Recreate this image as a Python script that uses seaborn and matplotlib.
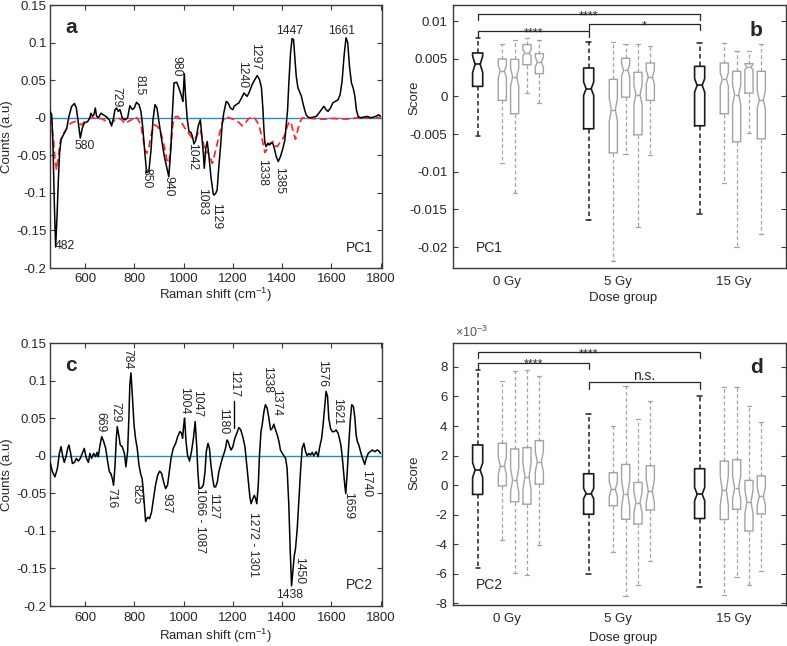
import numpy as np
import matplotlib.pyplot as plt
import seaborn as sns
from matplotlib.ticker import FuncFormatter

sns.set_style('ticks')
plt.rcParams['font.family'] = ['Liberation Sans', 'DejaVu Sans']
plt.rcParams['mathtext.fontset'] = 'custom'
plt.rcParams['mathtext.rm'] = 'Liberation Sans'
plt.rcParams['mathtext.it'] = 'Liberation Sans:italic'
plt.rcParams['axes.unicode_minus'] = False

# ---- panel a: PC1 loading (black) and dashed red curve
a_shift = [458, 465, 470, 476, 481, 486.5, 492, 497, 503, 512, 526, 535, 546, 557, 565, 573, 581, 589, 597,
           611, 620, 624, 630, 636, 642, 647, 654, 665, 674, 688, 699, 708, 716, 722, 728, 735, 742, 751, 762,
           773, 782, 792, 800, 809, 819, 827, 834, 843, 850, 859, 868, 876, 884, 892, 901, 911, 922, 931, 940,
           949, 954, 961, 972, 981, 992, 997, 1003, 1008, 1015, 1022, 1030, 1036, 1042, 1050, 1059, 1068,
           1073, 1080, 1084, 1090, 1096, 1103, 1111, 1120, 1123, 1130, 1136, 1143, 1150, 1157, 1163, 1173,
           1181, 1190, 1200, 1205, 1213, 1224, 1235, 1245, 1251, 1258, 1268, 1278, 1289, 1299, 1308, 1316,
           1322, 1326, 1330, 1335, 1342, 1349, 1355, 1362, 1368, 1376, 1384, 1393, 1403, 1411, 1416, 1422,
           1427, 1434, 1440, 1446, 1451, 1457, 1464, 1470, 1478, 1484, 1491, 1497, 1505, 1515, 1528, 1538,
           1549, 1559, 1569, 1578, 1586, 1596, 1605, 1616, 1627, 1635, 1643, 1651, 1659, 1666, 1673, 1681,
           1688, 1695, 1701, 1708, 1718, 1731, 1745, 1758, 1772, 1785, 1792, 1799]
a_pc1 = [0.0085, 0.004, -0.034, -0.1185, -0.172, -0.132, -0.083, -0.047, -0.029, -0.023, -0.014, 0.002, 0.015,
         0.019, 0.013, -0.007, -0.027, -0.014, -0.007,
         -0.005, 0.0, 0.006, 0.002, 0.004, 0.013, 0.002, 0.0, 0.006, 0.004, 0.001, -0.003, -0.011, 0.0, 0.011,
         0.013, 0.0085, 0.011, 0.0, -0.003,
         0.0, 0.016, 0.011, 0.013, 0.0205, 0.0174, 0.0085, -0.0116, -0.0472, -0.073, -0.0717, -0.0428, -0.0027,
         0.0174, 0.013, -0.0071, -0.0294, -0.0517, -0.065, -0.0784,
         -0.0383, 0.0018, 0.0463, 0.0472, 0.0397, 0.0285, 0.0218, 0.0588, 0.0285, -0.0027, -0.0183, -0.0196,
         -0.025, -0.0348, -0.0294, -0.0116, -0.0027,
         -0.0205, -0.0472, -0.0673, -0.0406, -0.0316, -0.0517, -0.0784, -0.1007, -0.1029, -0.1007, -0.0963,
         -0.0651, -0.0383, -0.0071, 0.0062, 0.0218,
         0.0196, 0.0129, 0.0107, 0.0152, 0.0174, 0.0196, 0.0263, 0.033, 0.0307, 0.0285, 0.0352, 0.0441, 0.0508,
         0.0561, 0.0508, 0.0397,
         0.0107, -0.016, -0.0339, -0.0383, -0.0339, -0.0361, -0.0339, -0.0339, -0.0406, -0.0517, -0.0584,
         -0.0517, -0.0406, -0.0294, -0.0116, 0.0107,
         0.0463, 0.0865, 0.1052, 0.1043, 0.082, 0.0553, 0.0397, 0.0352, 0.0285, 0.0196, 0.0107, 0.004, 0.0009,
         0.0, 0.0009, 0.0018,
         0.0062, 0.0107, 0.0152, 0.0107, 0.0085, 0.0129, 0.0196, 0.0218, 0.0241, 0.0307, 0.0486, 0.082, 0.1065,
         0.0998, 0.0686, 0.0463,
         0.0397, 0.0285, 0.0107, 0.0018, 0.0, 0.0009, 0.0018, 0.0, 0.0009, 0.0027, 0.004, 0.0018]

a_red_shift = [462, 472, 478, 485, 492, 499, 508, 519, 530, 543, 560, 573, 587, 600, 620, 641, 668, 688, 708,
               722, 735, 749, 762, 776, 789, 805, 816, 827, 837, 843, 851, 860, 870, 881, 895, 908, 922, 932,
               941, 949, 957, 965, 976, 985, 995, 1005, 1016, 1030, 1041, 1053, 1062, 1070, 1080, 1089, 1097,
               1107, 1116, 1120, 1127, 1137, 1146, 1157, 1165, 1173, 1187, 1200, 1211, 1224, 1238, 1249, 1262,
               1276, 1285, 1295, 1305, 1314, 1322, 1330, 1337, 1343, 1353, 1362, 1370, 1380, 1389, 1400, 1411,
               1420, 1430, 1438, 1446, 1454, 1462, 1470, 1481, 1501, 1522, 1549, 1576, 1603, 1630, 1657, 1684,
               1711, 1751, 1799]
a_red = [-0.0004, -0.0294, -0.0561, -0.0695, -0.0517, -0.0339, -0.0227, -0.0183, -0.0116, -0.0071, -0.0049,
         -0.0071, -0.0094, -0.0049, -0.0004, -0.0004, -0.0013, -0.0049, -0.0071,
         -0.0027, -0.0004, -0.0027, -0.008, -0.0049, -0.0027, 0.0018, -0.0027, -0.0094, -0.0294, -0.0428,
         -0.0472, -0.0383, -0.0205, -0.0094, -0.0116, -0.0205, -0.0383, -0.0561,
         -0.0606, -0.0339, -0.0071, 0.0009, 0.0018, -0.0018, -0.008, -0.0138, -0.0183, -0.025, -0.0294, -0.025,
         -0.016, -0.0183, -0.0339, -0.0472, -0.045,
         -0.0517, -0.0606, -0.0584, -0.0472, -0.0339, -0.0205, -0.0071, -0.0004, 0.0018, -0.0004, -0.0018,
         -0.0027, -0.0062, -0.0107, -0.008, -0.0018,
         0.0009, 0.0009, -0.0036, -0.0094, -0.0205, -0.0339, -0.0463, -0.0428, -0.0361, -0.0339, -0.0316,
         -0.0374, -0.0383, -0.0339, -0.0294, -0.0227,
         -0.0116, -0.0049, -0.0094, -0.0205, -0.0285, -0.0183, -0.0071, -0.0004, 0.0, -0.0009, -0.0018, -0.0018,
         -0.0009, -0.0013, -0.0018, -0.0009,
         0.0, 0.0, 0.0]

# ---- panel c: PC2 loading
c_shift = [458, 468, 478, 488, 496, 503, 510, 516, 523, 530, 535, 542, 549, 557, 565, 573, 581, 589, 597,
           605, 614, 620, 627, 635, 643, 649, 654, 661, 668, 676, 684, 692, 699, 705, 711, 716, 722, 727,
           731, 738, 743, 751, 760, 766, 773, 778, 782, 786.5, 792, 799, 805, 812, 819, 827, 832, 838, 846,
           854, 862, 870, 878, 886, 895, 903, 911, 919, 927, 935, 942, 949, 958, 968, 976, 985, 992, 996,
           1000, 1004, 1010, 1016, 1024, 1032, 1040, 1047, 1053, 1058, 1063, 1072, 1080, 1087, 1092, 1099,
           1105, 1111, 1118, 1124, 1130, 1137, 1143, 1150, 1157, 1164, 1170, 1176, 1181, 1187, 1193, 1200,
           1208, 1216, 1224, 1232, 1240, 1249, 1255, 1262, 1269, 1274, 1281, 1287, 1292, 1297, 1303, 1308,
           1314, 1319, 1326, 1332, 1339, 1346, 1353, 1360, 1366, 1373, 1380, 1387, 1393, 1403, 1414, 1420,
           1427, 1432, 1438, 1443, 1449, 1454, 1461, 1468, 1476, 1481, 1488, 1495, 1501, 1508, 1515, 1522,
           1528, 1538, 1546, 1551, 1560, 1566, 1573, 1578, 1584, 1589, 1596, 1603, 1611, 1619, 1627, 1632,
           1638, 1643, 1649, 1654, 1658, 1664, 1670, 1676, 1682, 1689, 1695, 1700, 1705, 1711, 1718, 1724,
           1731, 1735, 1741, 1749, 1757, 1765, 1776, 1785, 1792, 1799]
c_pc2 = [-0.008, -0.0214, -0.0281, -0.017, 0.0031, 0.0121, -0.0013, -0.0089, -0.0013, 0.0098, 0.0143, 0.0031,
         -0.0103, -0.0089, -0.0036, -0.0071, -0.0036, 0.0031, 0.0098,
         -0.0027, -0.0089, 0.0031, -0.0036, 0.0031, -0.0013, 0.0045, -0.0013, 0.0143, 0.0254, 0.0188, 0.0098,
         -0.008, -0.0214, -0.0237, -0.0304, -0.0393, -0.0125, 0.0232,
         0.0388, 0.0254, 0.0143, 0.0121, 0.0031, -0.0147, 0.0054, 0.05, 0.0946, 0.1103, 0.0813, 0.0411, 0.0232,
         0.0098, -0.0125, -0.0259, -0.0304, -0.0527, -0.0875,
         -0.0817, -0.0839, -0.075, -0.0571, -0.0393, -0.0259, -0.0205, -0.0237, -0.0348, -0.0438, -0.0393,
         -0.0214, -0.0036, 0.0098, 0.0165, 0.0254, 0.0321, 0.0299, 0.0232,
         0.0388, 0.05, 0.0188, 0.0009, -0.0071, 0.0054, 0.0232, 0.0455, 0.0143, -0.0214, -0.0438, -0.0429,
         -0.0393, -0.0214, 0.0054, 0.0165,
         0.0098, -0.0125, -0.0304, -0.0415, -0.0415, -0.0348, -0.0214, -0.0125, -0.0036, 0.0031, 0.0098, 0.021,
         0.0188, 0.0121, 0.0076, 0.0121,
         0.0232, 0.0299, 0.0375, 0.0344, 0.0254, 0.0121, -0.008, -0.0304, -0.0549, -0.0638, -0.0571, -0.0527,
         -0.0571, -0.0638, -0.0393, 0.0009,
         0.0321, 0.0411, 0.0589, 0.0679, 0.0634, 0.05, 0.0344, 0.0366, 0.042, 0.0344, 0.0277, 0.0188, 0.0076,
         0.0018, -0.0036, -0.017,
         -0.0661, -0.1196, -0.1732, -0.1554, -0.133, -0.1241, -0.0973, -0.0571, -0.0125, 0.0098, 0.0165, 0.0054,
         0.0, 0.0031, 0.0009, 0.0045,
         0.0, 0.0054, -0.0013, 0.0098, 0.0232, 0.0411, 0.0679, 0.0857, 0.079, 0.05, 0.0366, 0.0321, 0.0321,
         0.0344, 0.0299, 0.0232,
         0.0143, 0.0009, -0.0214, -0.0393, -0.0504, -0.0214, 0.0143, 0.0455, 0.0679, 0.0656, 0.05, 0.0277,
         0.0188, 0.0143, 0.0054, -0.0013,
         -0.008, -0.0116, -0.0036, 0.0031, 0.0054, 0.0076, 0.0054, 0.0076, 0.0063, 0.0031]

# peak labels (text, wavenumber, counts)
a_peaks_h = ['482', '580', '1447', '1661']
a_peaks_h_pos = [(478, -0.171, 'left'), (600, -0.038, 'center'), (1432, 0.115, 'center'), (1641, 0.115, 'center')]
a_peaks_v = ['729', '815', '980', '850', '940', '1042', '1083', '1129', '1240', '1297', '1338', '1385']
a_peaks_v_pos = [(726, 0.028), (820, 0.043), (969, 0.069), (850, -0.080), (938, -0.091), (1033, -0.051),
                 (1077, -0.111), (1134, -0.131), (1236, 0.058), (1290, 0.082), (1317, -0.073), (1388, -0.084)]
c_peaks_h = ['1438']
c_peaks_h_pos = [(1429, -0.185, 'center')]
c_peaks_v = ['669', '729', '784', '716', '825', '937', '1004', '1047', '1066 - 1087', '1127', '1180', '1217',
             '1272 - 1301', '1338', '1374', '1450', '1576', '1621', '1659', '1740']
c_peaks_v_pos = [(661, 0.044), (722, 0.058), (773, 0.129), (708, -0.056), (807, -0.051), (931, -0.0625),
                 (1002, 0.0727), (1053, 0.0696), (1067, -0.086), (1120, -0.067), (1161, 0.046), (1206, 0.0965),
                 (1283, -0.118), (1337, 0.102), (1375, 0.071), (1469, -0.153), (1564, 0.11), (1621, 0.059),
                 (1668, -0.066), (1740, -0.037)]

# ---- panels b / d: box plot summaries (black = pooled group, gray = individual)
dose_groups = ['0 Gy', '5 Gy', '15 Gy']
box_pos = [1, 3, 4, 5, 6, 10, 12, 13, 14, 15, 19, 21, 22, 23, 24]
pooled = [0, 5, 10]

b_whishi = [0.00781, 0.00692, 0.00745, 0.0078, 0.00745, 0.00728, 0.00728, 0.00701, 0.00701, 0.0067,
            0.00714, 0.00714, 0.00603, 0.00603, 0.00701]
b_q3 = [0.00577, 0.00497, 0.00492, 0.00688, 0.00568, 0.00377, 0.00226, 0.00506, 0.0032, 0.00444,
        0.00399, 0.00444, 0.00333, 0.00435, 0.00333]
b_med = [0.00426, 0.00333, 0.00257, 0.00577, 0.00457, 0.00102, -0.00177, 0.00346, 0.00022, 0.00257,
         0.00146, 0.00226, 0.00022, 0.0039, -0.00044]
b_q1 = [0.00133, -0.00053, -0.00231, 0.00421, 0.00302, -0.0043, -0.0075, -0.0001, -0.0051, -0.00053,
        -0.0039, -0.0023, -0.00603, 0.00044, -0.00563]
b_whislo = [-0.0053, -0.00883, -0.01282, 0.00044, -0.00084, -0.01642, -0.02192, -0.00763, -0.0173, -0.00772,
            -0.01562, -0.01153, -0.01997, -0.00484, -0.01828]
b_notch = [0.0011, 0.0008, 0.0012, 0.0004, 0.0007, 0.0009, 0.0015, 0.0008, 0.0013, 0.0009,
           0.0009, 0.0009, 0.0013, 0.0004, 0.0012]

# panel d values in units of 1e-3
d_whishi = [7.77, 7.02, 7.70, 7.81, 7.41, 4.80, 4.03, 6.68, 4.46, 5.66, 6.05, 6.61, 6.61, 5.37, 4.30]
d_q3 = [2.72, 2.83, 2.45, 2.54, 3.01, 0.77, 0.84, 1.40, 0.18, 1.31, 1.11, 1.63, 1.72, 0.32, 0.63]
d_med = [1.02, 1.31, 0.34, 0.57, 1.59, -0.57, -0.27, -0.57, -1.18, -0.41, -0.61, -0.36, -0.18, -1.13, -0.75]
d_q1 = [-0.63, -0.05, -1.13, -1.29, 0.07, -1.97, -1.40, -2.31, -2.63, -1.68, -2.26, -2.33, -1.63, -3.10, -1.95]
d_whislo = [-5.62, -3.71, -5.96, -6.07, -4.03, -6.0, -4.55, -7.47, -6.75, -5.16, -6.91, -7.43, -6.23, -6.73, -5.82]
d_notch = [0.5, 0.6, 0.8, 0.9, 0.7, 0.35, 0.5, 0.9, 0.7, 0.8, 0.45, 1.0, 0.8, 0.8, 0.6]

# significance brackets: (from group, to group, height, end height, label)
b_sig = [(0, 2, 0.01091, 0.0101, '****'), (0, 1, 0.00865, 0.0079, '****'), (1, 2, 0.00958, 0.00887, '*')]
d_sig = [(0, 2, 8.99, 8.6, '****'), (0, 1, 8.27, 7.88, '****'), (1, 2, 6.95, 6.52, 'n.s.')]

FRAME = '#3a3a3a'
TXT = '#262626'
GRAY = '#a3a3a3'
fmt = FuncFormatter(lambda v, p: f'{v:g}')

fig = plt.figure(figsize=(7.87, 6.46), dpi=100)
ax_a = fig.add_axes([0.0635, 0.5851, 0.4219, 0.4071])
ax_b = fig.add_axes([0.5756, 0.5851, 0.4231, 0.4071])
ax_c = fig.add_axes([0.0635, 0.0619, 0.4219, 0.4071])
ax_d = fig.add_axes([0.5756, 0.0635, 0.4231, 0.4056])


def style(ax):
    for s in ax.spines.values():
        s.set_color(FRAME)
        s.set_linewidth(1.0)
    ax.tick_params(direction='in', length=3.5, width=0.8, color=FRAME, labelcolor=TXT,
                   labelsize=9.5, top=True, right=True)


def spectrum(ax, x, y, hl, hl_pos, vl, vl_pos, tag, pc):
    ax.axhline(0, color='#2a8bd2', lw=1.0, zorder=1)
    sns.lineplot(x=x, y=y, ax=ax, color='black', lw=1.1, estimator=None, errorbar=None, zorder=3)
    for t, (px, py, ha) in zip(hl, hl_pos):
        ax.text(px, py, t, ha=ha, va='center', fontsize=8.7)
    for t, (px, py) in zip(vl, vl_pos):
        ax.text(px, py, t, ha='center', va='center', rotation=-90, fontsize=8.7)
    ax.set_xlim(458, 1805)
    ax.set_ylim(-0.2, 0.15)
    ax.set_xticks([600, 800, 1000, 1200, 1400, 1600, 1800])
    ax.set_yticks(np.round(np.arange(-0.2, 0.151, 0.05), 2))
    ax.yaxis.set_major_formatter(fmt)
    ax.set_xlabel('Raman shift (cm$^{-1}$)', fontsize=9.5, color=TXT)
    ax.set_ylabel('Counts (a.u)', fontsize=9.5, color=TXT)
    ax.yaxis.set_label_coords(-0.111, 0.5)
    ax.text(0.045, 0.915, tag, transform=ax.transAxes, fontsize=15, fontweight='bold', va='center')
    ax.text(0.973, 0.078, pc, transform=ax.transAxes, fontsize=10, ha='right', va='center', color=TXT)
    style(ax)
    ax.tick_params(axis='y', pad=2.5)


def boxes(ax, whislo, q1, med, q3, whishi, notch, sig, tag, pc):
    for i in range(len(med)):
        dark = i in pooled
        col = '#1a1a1a' if dark else GRAY
        lw = 1.2 if dark else 1.0
        st = [dict(med=med[i], q1=q1[i], q3=q3[i], whislo=whislo[i], whishi=whishi[i],
                   cilo=med[i] - notch[i], cihi=med[i] + notch[i], fliers=[])]
        ax.bxp(st, positions=[box_pos[i]], widths=[0.82 if dark else 0.66], capwidths=[0.35],
               shownotches=True, showfliers=False, manage_ticks=False,
               boxprops=dict(color=col, lw=lw),
               whiskerprops=dict(color=col, lw=lw * 0.9, ls=(0, (3, 2))),
               capprops=dict(color=col, lw=lw * 0.9),
               medianprops=dict(color=col, lw=lw))
    for g0, g1, y, yd, lab in sig:
        x0, x1 = box_pos[pooled[g0]], box_pos[pooled[g1]]
        ax.plot([x0, x0, x1, x1], [yd, y, y, yd], color=TXT, lw=0.9)
        if lab == 'n.s.':
            ax.annotate(lab, xy=((x0 + x1) / 2, y), xytext=(0, 1.5), textcoords='offset points',
                        ha='center', va='baseline', fontsize=10, color=TXT)
        else:
            ax.annotate(lab, xy=((x0 + x1) / 2, y), xytext=(0, -3.5), textcoords='offset points',
                        ha='center', va='baseline', fontsize=9, color=TXT)
    ax.set_xlim(-1, 26)
    ax.set_xticks([3.4, 12.4, 21.8])
    ax.set_xticklabels(dose_groups)
    ax.yaxis.set_major_formatter(fmt)
    ax.set_xlabel('Dose group', fontsize=9.5, color=TXT)
    ax.set_ylabel('Score', fontsize=9.5, color=TXT)
    ax.text(0.91, 0.905, tag, transform=ax.transAxes, fontsize=15, fontweight='bold', ha='center', va='center')
    ax.text(0.07, 0.075, pc, transform=ax.transAxes, fontsize=10, ha='left', va='center', color=TXT)
    style(ax)
    ax.tick_params(axis='x', length=0, pad=6)
    ax.tick_params(axis='y', pad=4)


spectrum(ax_a, a_shift, a_pc1, a_peaks_h, a_peaks_h_pos, a_peaks_v, a_peaks_v_pos, 'a', 'PC1')
sns.lineplot(x=a_red_shift, y=a_red, ax=ax_a, color='#ff2b2b', lw=1.3, linestyle=(0, (4, 2.2)),
             estimator=None, errorbar=None, zorder=2)
ax_a.xaxis.set_label_coords(0.5, -0.066)
ax_a.tick_params(axis='x', pad=3.5)

spectrum(ax_c, c_shift, c_pc2, c_peaks_h, c_peaks_h_pos, c_peaks_v, c_peaks_v_pos, 'c', 'PC2')
ax_c.plot([1206, 1206], [0.037, 0.0727], color='black', lw=1.0)
ax_c.xaxis.set_label_coords(0.5, -0.08)
ax_c.tick_params(axis='x', pad=4)

boxes(ax_b, b_whislo, b_q1, b_med, b_q3, b_whishi, b_notch, b_sig, 'b', 'PC1')
ax_b.set_ylim(-0.02279, 0.01213)
ax_b.set_yticks([-0.02, -0.015, -0.01, -0.005, 0, 0.005, 0.01])
ax_b.xaxis.set_label_coords(0.51, -0.092)
ax_b.yaxis.set_label_coords(-0.097, 0.646)

boxes(ax_d, d_whislo, d_q1, d_med, d_q3, d_whishi, d_notch, d_sig, 'd', 'PC2')
ax_d.set_ylim(-8.11, 9.62)
ax_d.set_yticks([-8, -6, -4, -2, 0, 2, 4, 6, 8])
ax_d.xaxis.set_label_coords(0.51, -0.105)
ax_d.yaxis.set_label_coords(-0.097, 0.504)
ax_d.text(0.005, 1.012, r'$\times10^{-3}$', transform=ax_d.transAxes, ha='left', va='bottom',
          fontsize=9, color='#555555')

fig.savefig('out.png', dpi=100)
